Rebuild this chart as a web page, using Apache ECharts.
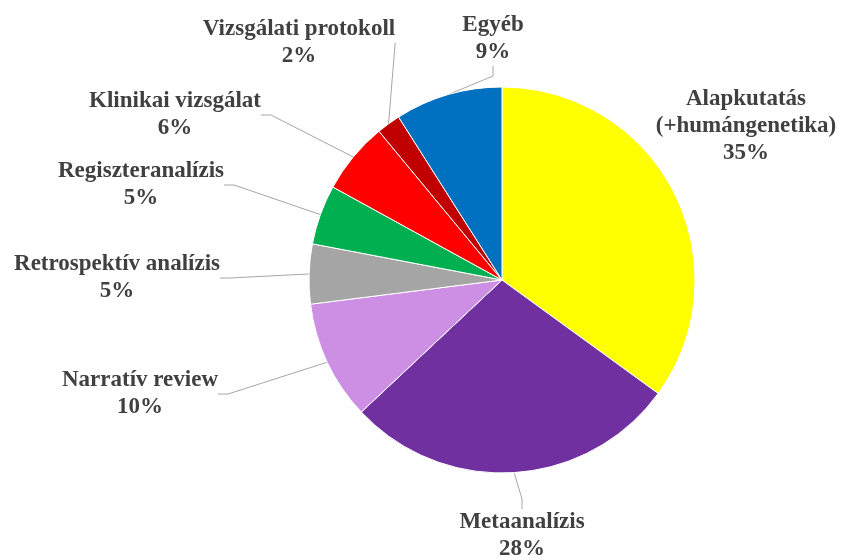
<!DOCTYPE html>
<html>
<head>
<meta charset="utf-8">
<script src="https://cdn.jsdelivr.net/npm/echarts@6/dist/echarts.min.js"></script>
<style>
  html, body { margin: 0; padding: 0; background: #fff; }
  #main { width: 842px; height: 558px; }
</style>
</head>
<body>
<div id="main"></div>
<script>
// kategóriák és értékek (%)
var categories = ['Alapkutatás\n(+humángenetika)', 'Metaanalízis', 'Narratív review',
  'Retrospektív analízis', 'Regiszteranalízis', 'Klinikai vizsgálat',
  'Vizsgálati protokoll', 'Egyéb'];
var values = [35, 28, 10, 5, 5, 6, 2, 9];
var colors = ['#FFFF00', '#7030A0', '#CC8FE3', '#A5A5A5', '#00B050', '#FF0000', '#C00000', '#0070C0'];

// címkék helye (szöveg blokk közepe)
var labelPos = [[746, 126], [522, 536], [140, 394], [117, 278], [141, 185], [175, 115], [299, 43], [493, 39]];

var chart = echarts.init(document.getElementById('main'));

var data = categories.map(function (name, i) {
  var item = { name: name, value: values[i], itemStyle: { color: colors[i] } };
  if (i === 0) item.labelLine = { show: false };
  return item;
});

var option = {
  animation: false,
  series: [{
    type: 'pie',
    center: [502, 280],
    radius: 193,
    startAngle: 90,
    clockwise: true,
    itemStyle: { borderColor: '#fff', borderWidth: 1 },
    label: {
      show: true,
      formatter: '{b}\n{c}%',
      fontFamily: 'Liberation Serif',
      fontWeight: 'bold',
      fontSize: 23,
      lineHeight: 27,
      color: '#404040',
      align: 'center',
      overflow: 'none'
    },
    labelLine: {
      show: true,
      length: 20,
      length2: 10,
      lineStyle: { color: '#A6A6A6', width: 1 }
    },
    labelLayout: function (params) {
      var p = labelPos[params.dataIndex];
      return { x: p[0], y: p[1], align: 'center', verticalAlign: 'middle' };
    },
    data: data
  }]
};

chart.setOption(option);
</script>
</body>
</html>
